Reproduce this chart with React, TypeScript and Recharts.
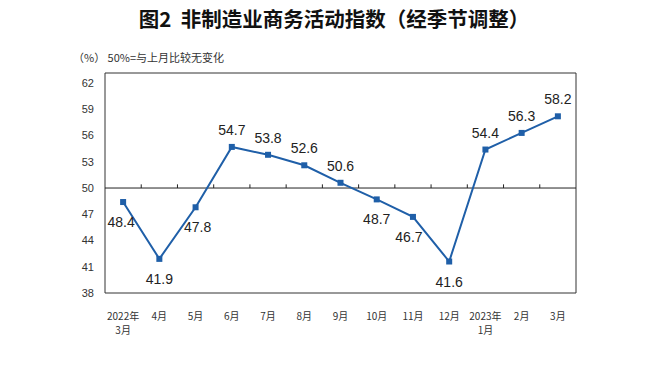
import { LineChart, Line, XAxis, YAxis, ReferenceLine, ReferenceArea } from "recharts";

const months = ["2022年|3月", "4月", "5月", "6月", "7月", "8月", "9月", "10月", "11月", "12月", "2023年|1月", "2月", "3月"];
const values = [48.4, 41.9, 47.8, 54.7, 53.8, 52.6, 50.6, 48.7, 46.7, 41.6, 54.4, 56.3, 58.2];
const yTicks = [38, 41, 44, 47, 50, 53, 56, 59, 62];
// small nudges for a couple of labels
const labelNudge = [-2, 0, 2, 0, 0, 0, 0, 0, -4, 0, 0, 0, 0];

const data = values.map((v, i) => ({ idx: i, value: v }));
const bounds = months.slice(1).map((_, i) => i + 0.5);

const LINE = "#1f5fa8";
const CJK = "'Noto Sans CJK SC', sans-serif";

function MonthTick({ x, y, payload }: any) {
  const parts = months[payload.value].split("|");
  return (
    <text x={x} y={y + 19} textAnchor="middle" fontSize={10} fill="#333" fontFamily={CJK}>
      {parts.map((p, i) => (
        <tspan key={i} x={x} dy={i === 0 ? 0 : 14}>{p}</tspan>
      ))}
    </text>
  );
}

function ValueLabel({ x, y, value, index }: any) {
  const above = value >= 50;
  return (
    <text
      x={x + labelNudge[index]}
      y={above ? y - 12 : y + 25}
      textAnchor="middle"
      fontSize={14}
      fill="#222"
      fontFamily="'Liberation Sans', Arial, sans-serif"
    >
      {value.toFixed(1)}
    </text>
  );
}

function Square({ cx, cy, index }: any) {
  return <rect key={index} x={cx - 3} y={cy - 3} width={6} height={6} fill={LINE} />;
}

export default function App() {
  return (
    <div style={{ position: "relative", width: 668, height: 371, margin: -8, background: "#fff" }}>
      <div
        style={{
          position: "absolute", left: 0, top: 3, width: 668, textAlign: "center",
          fontSize: 20.5, fontWeight: "bold", fontFamily: CJK, color: "#111",
        }}
      >
        图2&nbsp;&nbsp;非制造业商务活动指数（经季节调整）
      </div>
      <div style={{ position: "absolute", left: 73, top: 49, fontSize: 11, fontFamily: CJK, color: "#333", whiteSpace: "pre" }}>
        （%） 50%=与上月比较无变化
      </div>
      <div style={{ position: "absolute", left: 0, top: 0 }}>
        <LineChart width={668} height={371} data={data} margin={{ top: 73, right: 92, bottom: 48, left: 65 }}>
          <XAxis
            dataKey="idx"
            type="number"
            domain={[-0.5, 12.5]}
            ticks={months.map((_, i) => i)}
            interval={0}
            tick={<MonthTick />}
            tickLine={false}
            axisLine={false}
            height={30}
          />
          <YAxis
            type="number"
            domain={[38, 63.15]}
            ticks={yTicks}
            interval={0}
            tickSize={0}
            tickMargin={11}
            axisLine={false}
            width={40}
            tick={{ fontSize: 11, fill: "#333", fontFamily: "'Liberation Sans', Arial, sans-serif" }}
          />
          <ReferenceArea x1={-0.5} x2={12.5} y1={38} y2={63.15} fill="none" stroke="#333" strokeWidth={1} />
          <ReferenceLine y={50} stroke="#222" strokeWidth={1} />
          {bounds.map((b) => (
            <ReferenceLine key={b} segment={[{ x: b, y: 50 }, { x: b, y: 50.42 }]} stroke="#222" strokeWidth={1} />
          ))}
          <Line
            dataKey="value"
            stroke={LINE}
            strokeWidth={2}
            dot={<Square />}
            activeDot={false}
            label={<ValueLabel />}
            isAnimationActive={false}
          />
        </LineChart>
      </div>
    </div>
  );
}
